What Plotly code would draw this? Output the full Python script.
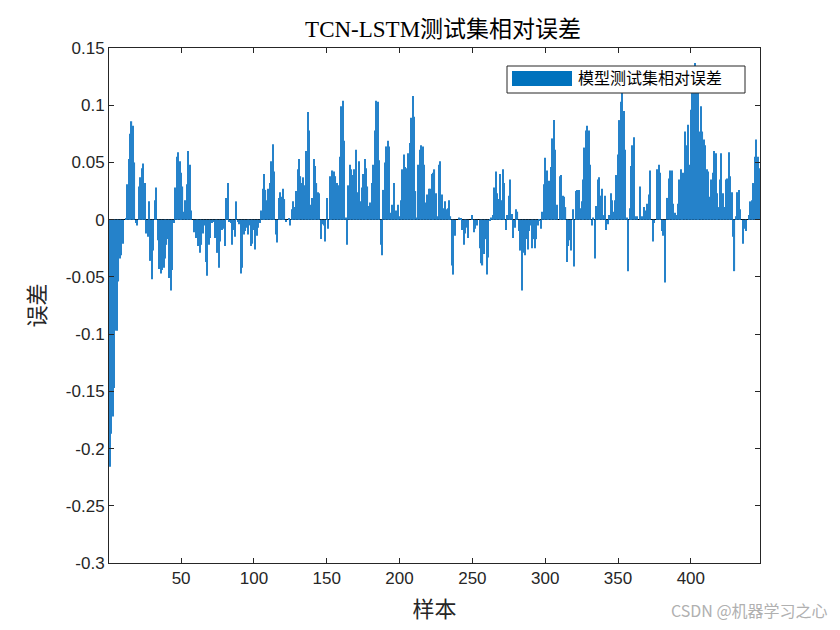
import plotly.graph_objects as go

title_text = "TCN-LSTM测试集相对误差"
legend_text = "模型测试集相对误差"
x_label = "样本"
y_label = "误差"
watermark = "CSDN @机器学习之心"

errors = [
    -0.216, -0.187, -0.172, -0.147, -0.097, -0.097, -0.054, -0.034, -0.031, -0.021,
    0.000, 0.001, 0.031, 0.053, 0.075, 0.086, 0.082, 0.050, -0.003, -0.005,
    0.029, 0.037, 0.045, 0.049, 0.032, -0.012, -0.015, 0.016, -0.036, -0.052,
    -0.027, 0.017, 0.028, -0.018, -0.043, -0.047, -0.044, -0.042, -0.034, -0.022,
    -0.017, -0.051, -0.062, -0.044, -0.003, 0.028, 0.055, 0.059, 0.051, 0.041,
    0.029, 0.007, 0.017, 0.031, 0.060, 0.048, 0.008, 0.000, -0.011, -0.016,
    -0.013, -0.023, -0.029, -0.022, -0.012, -0.005, -0.037, -0.049, -0.022, -0.016,
    -0.003, -0.002, -0.016, -0.016, -0.029, -0.042, -0.019, -0.009, -0.008, -0.023,
    0.019, 0.032, -0.002, -0.003, -0.022, -0.009, -0.015, 0.016, -0.002, -0.004,
    -0.047, -0.042, -0.013, -0.010, -0.007, -0.013, -0.005, -0.023, -0.021, -0.009,
    -0.026, -0.014, -0.007, -0.003, 0.008, 0.027, 0.040, 0.026, 0.017, 0.027,
    0.032, 0.051, 0.066, 0.042, -0.013, -0.020, 0.019, 0.024, 0.020, 0.027,
    0.018, -0.002, 0.000, 0.001, -0.005, 0.009, 0.016, 0.011, 0.025, 0.044,
    0.053, 0.038, 0.032, 0.037, 0.030, 0.060, 0.094, 0.078, 0.013, 0.019,
    0.053, 0.047, 0.032, 0.024, 0.023, -0.017, -0.004, -0.005, -0.019, 0.019,
    -0.008, 0.038, 0.036, 0.043, 0.042, 0.038, 0.032, 0.030, 0.055, 0.099,
    0.104, 0.069, 0.002, -0.022, 0.030, 0.048, 0.044, 0.039, 0.044, 0.061,
    0.024, 0.051, 0.016, 0.028, 0.040, 0.053, 0.045, 0.029, 0.012, 0.015,
    0.032, 0.048, 0.078, 0.104, 0.103, 0.052, -0.022, -0.031, 0.026, 0.050,
    0.064, 0.069, 0.064, 0.006, 0.013, 0.032, 0.008, 0.008, 0.013, 0.003,
    0.017, 0.044, 0.057, 0.046, 0.045, 0.058, 0.067, 0.089, 0.108, 0.090,
    0.025, 0.002, 0.048, 0.061, 0.065, 0.064, 0.048, 0.015, 0.022, 0.027,
    0.027, 0.040, 0.041, 0.044, 0.023, 0.003, 0.048, 0.051, 0.022, 0.010,
    0.016, 0.009, 0.010, 0.017, 0.003, -0.040, -0.048, -0.014, 0.000, 0.000,
    0.002, 0.001, -0.009, -0.022, -0.012, -0.007, -0.016, 0.000, 0.000, 0.004,
    -0.011, -0.008, -0.005, 0.000, -0.025, -0.038, -0.040, -0.030, -0.017, -0.048,
    -0.033, -0.001, 0.002, 0.004, 0.028, 0.042, 0.023, 0.018, 0.040, 0.017,
    0.044, 0.032, -0.009, 0.004, 0.021, 0.035, 0.005, -0.016, -0.007, 0.009,
    0.007, -0.010, -0.027, -0.062, -0.029, -0.031, -0.017, -0.026, -0.010, -0.005,
    -0.025, -0.017, -0.025, -0.017, -0.005, -0.001, -0.008, 0.007, 0.031, 0.054,
    0.043, 0.022, 0.034, 0.046, 0.071, 0.087, 0.061, 0.013, 0.000, 0.038,
    0.039, 0.021, 0.020, 0.011, -0.037, -0.023, -0.018, -0.027, 0.009, -0.041,
    0.025, 0.026, 0.026, 0.010, 0.016, 0.035, 0.063, 0.078, 0.082, 0.078,
    0.048, -0.005, 0.002, -0.034, 0.012, 0.035, 0.037, 0.021, 0.027, 0.004,
    0.021, -0.009, -0.004, 0.004, 0.023, 0.017, 0.007, 0.017, 0.039, 0.057,
    0.087, 0.103, 0.115, 0.095, 0.061, 0.002, -0.045, 0.010, 0.047, 0.065,
    0.072, 0.003, 0.003, 0.000, 0.029, 0.003, 0.003, 0.011, 0.008, 0.014,
    0.022, 0.043, 0.000, -0.019, -0.003, 0.000, 0.044, 0.048, 0.041, -0.010,
    -0.014, -0.055, 0.000, 0.019, 0.036, 0.043, 0.043, 0.014, 0.006, 0.004,
    0.014, 0.035, 0.044, 0.019, 0.041, 0.077, 0.065, 0.083, 0.048, 0.096,
    0.113, 0.125, 0.137, 0.124, 0.117, 0.077, 0.099, 0.077, 0.070, 0.065,
    0.044, 0.042, 0.020, 0.035, 0.041, 0.060, 0.058, 0.023, 0.011, 0.035,
    0.058, 0.023, 0.011, 0.035, 0.036, 0.059, 0.038, 0.024, -0.015, -0.045,
    0.003, 0.024, 0.026, 0.009, 0.000, -0.021, -0.008, -0.010, 0.000, 0.004,
    0.016, 0.017, 0.032, 0.055, 0.070, 0.055, 0.045,
]
samples = list(range(1, len(errors) + 1))

x_ticks = [50, 100, 150, 200, 250, 300, 350, 400]
y_ticks = [0.15, 0.1, 0.05, 0, -0.05, -0.1, -0.15, -0.2, -0.25, -0.3]
y_ticktext = ["0.15", "0.1", "0.05", "0", "-0.05", "-0.1", "-0.15", "-0.2", "-0.25", "-0.3"]

bar_color = "#2582ca"
axis_color = "#262626"
serif = "Liberation Serif, Noto Sans CJK SC, serif"
sans = "Liberation Sans, Arial, sans-serif"

fig = go.Figure()
fig.add_trace(go.Bar(
    x=samples, y=errors, name=legend_text,
    marker=dict(color=bar_color, line=dict(width=0)),
    showlegend=False,
))

fig.update_layout(
    width=840, height=630,
    paper_bgcolor="white", plot_bgcolor="white",
    margin=dict(l=101, r=88, t=40, b=75),
    bargap=0.2,
    title=dict(text=title_text, x=0.518, xanchor="center", y=0.966, yanchor="middle",
               font=dict(family=serif, size=23, color="black")),
    font=dict(family=sans, color=axis_color),
)
fig.update_xaxes(
    range=[0.5, len(errors) + 0.5],
    tickvals=x_ticks, ticks="inside", ticklen=5, tickcolor=axis_color,
    showline=True, linecolor=axis_color, linewidth=1, mirror="ticks",
    showgrid=False, zeroline=False,
    tickfont=dict(family=sans, size=17, color=axis_color),
    title=dict(text=x_label, font=dict(family=serif, size=22, color=axis_color), standoff=14),
)
fig.update_yaxes(
    range=[-0.3, 0.15],
    tickvals=y_ticks, ticktext=y_ticktext, ticks="inside", ticklen=5, tickcolor=axis_color,
    showline=True, linecolor=axis_color, linewidth=1, mirror="ticks",
    showgrid=False, zeroline=True, zerolinecolor="black", zerolinewidth=1,
    tickfont=dict(family=sans, size=17, color=axis_color),
    title=dict(text=y_label, font=dict(family=serif, size=22, color=axis_color), standoff=14),
)

# legend box (MATLAB style)
fig.add_shape(type="rect", xref="paper", yref="paper",
              x0=(507 - 109) / 651, x1=(745 - 109) / 651,
              y0=(563 - 93) / 515, y1=(563 - 66) / 515,
              line=dict(color=axis_color, width=1), fillcolor="white", layer="above")
fig.add_shape(type="rect", xref="paper", yref="paper",
              x0=(512 - 109) / 651, x1=(572 - 109) / 651,
              y0=(563 - 86) / 515, y1=(563 - 71) / 515,
              line=dict(width=0), fillcolor="#0072BD", layer="above")
fig.add_annotation(text=legend_text, xref="paper", yref="paper",
                   x=(576 - 109) / 651, y=(563 - 79) / 515, xanchor="left", yanchor="middle",
                   showarrow=False, font=dict(family=serif, size=16, color="black"))
fig.add_annotation(text=watermark, xref="paper", yref="paper",
                   x=(830 - 109) / 651, y=(563 - 610) / 515, xanchor="right", yanchor="middle",
                   showarrow=False, font=dict(family="Noto Sans CJK SC, sans-serif", size=16, color="#b0b0b0"))

fig.write_html("out.html")
